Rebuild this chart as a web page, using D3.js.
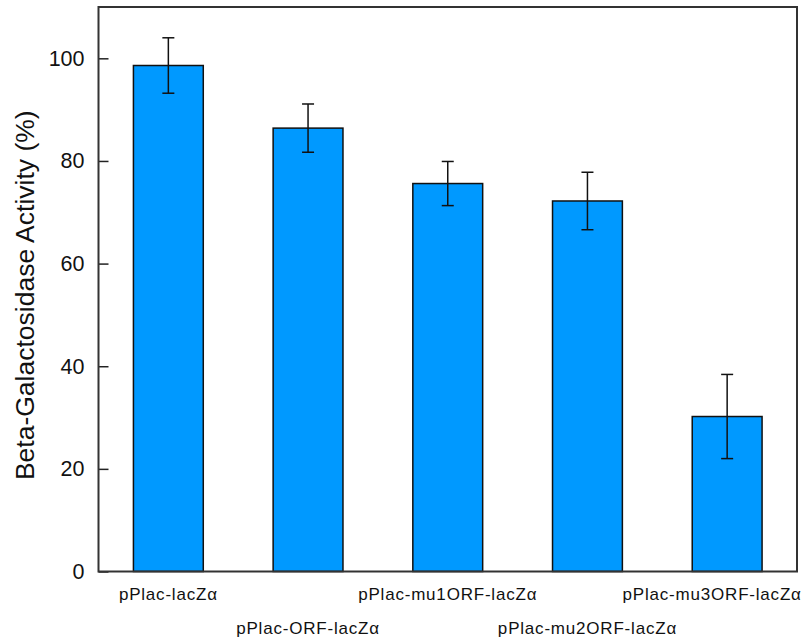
<!DOCTYPE html>
<html><head><meta charset="utf-8">
<script src="https://cdn.jsdelivr.net/npm/d3@7/dist/d3.min.js"></script>
<style>body{margin:0;background:#fff}svg{display:block}</style>
</head><body>
<svg id="c" width="801" height="641"></svg>
<script>
const categories = ["pPlac-lacZα","pPlac-ORF-lacZα","pPlac-mu1ORF-lacZα","pPlac-mu2ORF-lacZα","pPlac-mu3ORF-lacZα"];
const values = [98.6, 86.4, 75.6, 72.2, 30.2];
const errors = [5.4, 4.7, 4.3, 5.6, 8.2];
const yTicks = [0, 20, 40, 60, 80, 100];
const yLabel = "Beta-Galactosidase Activity (%)";

const svg = d3.select("#c");
const m = {l: 98.5, t: 7, r: 797, b: 571.5};
const x = d3.scaleBand().domain(categories).range([m.l, m.r]).paddingInner(0.5).paddingOuter(0.25);
const y = d3.scaleLinear().domain([0, 110]).range([m.b, m.t]);
const font = "'Liberation Sans', Arial, sans-serif";

// bars
svg.append("g").selectAll("rect").data(categories).join("rect")
  .attr("x", d => x(d)).attr("width", x.bandwidth())
  .attr("y", (d,i) => y(values[i])).attr("height", (d,i) => y(0) - y(values[i]))
  .attr("fill", "#0099ff").attr("stroke", "#111").attr("stroke-width", 1.5);

// error bars
const eg = svg.append("g").attr("stroke", "#111").attr("stroke-width", 1.5);
categories.forEach((c, i) => {
  const cx = x(c) + x.bandwidth()/2;
  eg.append("line").attr("x1", cx).attr("x2", cx).attr("y1", y(values[i]+errors[i])).attr("y2", y(values[i]-errors[i]));
  eg.append("line").attr("x1", cx-6).attr("x2", cx+6).attr("y1", y(values[i]+errors[i])).attr("y2", y(values[i]+errors[i]));
  eg.append("line").attr("x1", cx-6).attr("x2", cx+6).attr("y1", y(values[i]-errors[i])).attr("y2", y(values[i]-errors[i]));
});

// y axis (inward ticks)
const ya = svg.append("g").attr("transform", `translate(${m.l},0)`)
  .call(d3.axisLeft(y).tickValues(yTicks).tickSize(-10).tickPadding(14).tickFormat(d3.format("d")));
ya.select(".domain").remove();
ya.selectAll(".tick line").attr("stroke", "#222").attr("stroke-width", 1.5);
ya.selectAll(".tick text").attr("font-family", font).attr("font-size", 21.5).attr("fill", "#111");

// x axis labels staggered
const xa = svg.append("g").attr("transform", `translate(0,${m.b})`)
  .call(d3.axisBottom(x).tickSize(0).tickPadding(0));
xa.select(".domain").remove();
xa.selectAll(".tick text").attr("font-family", font).attr("font-size", 17).attr("letter-spacing", 0.8).attr("fill", "#111")
  .attr("dy", null).attr("y", (d,i) => i % 2 === 0 ? 28 : 62.5);
xa.selectAll(".tick text").filter((d,i) => i === 4).attr("dx", -15);

// frame
svg.append("rect").attr("x", m.l).attr("y", m.t).attr("width", m.r - m.l).attr("height", m.b - m.t)
  .attr("fill", "none").attr("stroke", "#333").attr("stroke-width", 2);

// y label
svg.append("text").attr("transform", `translate(34,${(m.t+m.b)/2 + 6}) rotate(-90)`)
  .attr("text-anchor", "middle").attr("font-family", font).attr("font-size", 26.5).attr("fill", "#111")
  .text(yLabel);
</script>
</body></html>
